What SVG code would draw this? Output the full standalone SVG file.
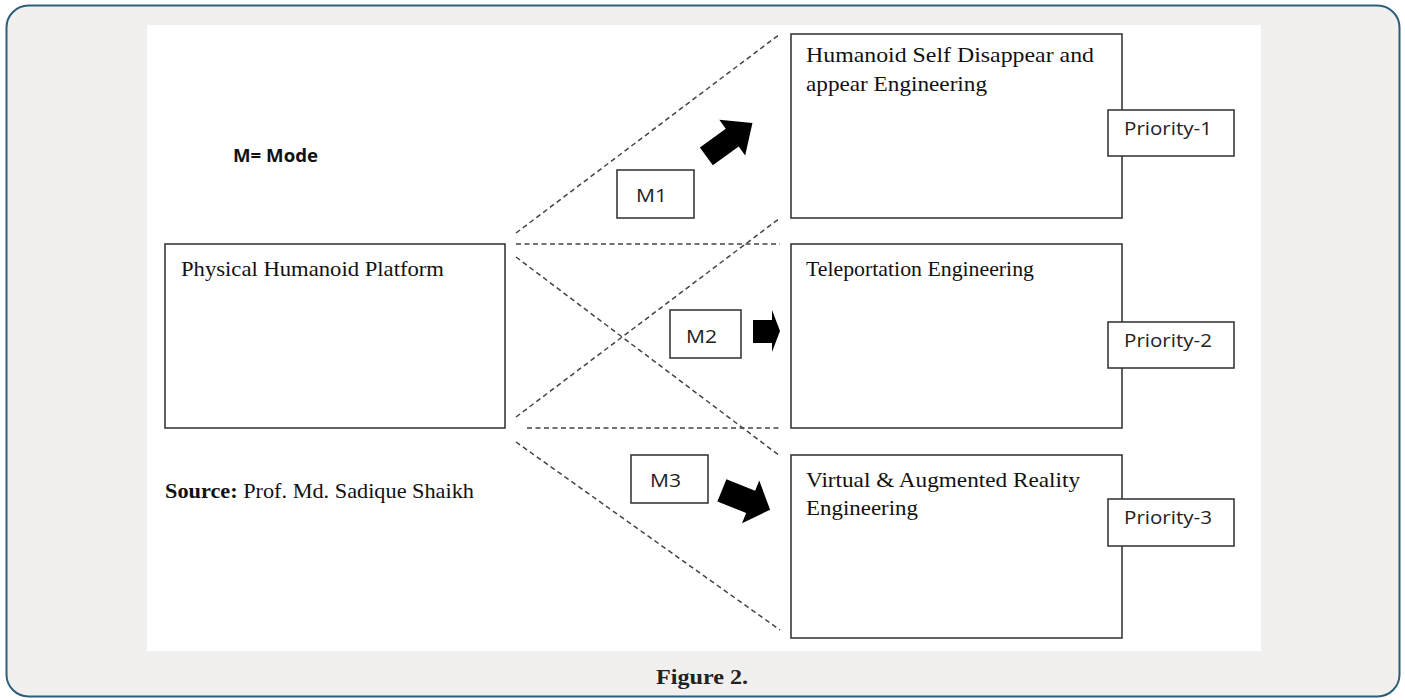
<svg xmlns="http://www.w3.org/2000/svg" width="1405" height="700" viewBox="0 0 1405 700">
<style>
.box{fill:#fff;stroke:#3a3a3a;stroke-width:1.6}
.dash{stroke:#444;stroke-width:1.5;stroke-dasharray:5 3.5;fill:none}
.serif{font-family:"Liberation Serif","Times New Roman",serif;font-size:22px;fill:#111}
.sans{font-family:"Open Sans","Liberation Sans",sans-serif;font-size:19px;fill:#222}
.arrow{fill:#000}
</style>
<rect x="6.5" y="5.5" width="1393" height="691" rx="22" fill="#f1f0ee" stroke="#2a5f7a" stroke-width="2"/>
<rect x="147" y="25" width="1114" height="626" fill="#fff"/>
<g id="connectors">
<line class="dash" x1="516" y1="233" x2="780" y2="34"/>
<line class="dash" x1="516" y1="244" x2="780" y2="244"/>
<line class="dash" x1="516" y1="257" x2="780" y2="456"/>
<line class="dash" x1="516" y1="417" x2="780" y2="218"/>
<line class="dash" x1="527" y1="428" x2="780" y2="428"/>
<line class="dash" x1="516" y1="442" x2="780" y2="630"/>
<path class="arrow" transform="translate(729,140) rotate(-36)" d="M-28,-11 L4,-11 L4,-22 L29,0 L4,22 L4,11 L-28,11 Z"/>
<path class="arrow" d="M753,320 L772,320 L772,310 L780,331 L772,352 L772,343 L753,343 Z"/>
<path class="arrow" transform="translate(746,500) rotate(22)" d="M-26,-12 L5,-12 L5,-23 L26,0 L5,23 L5,12 L-26,12 Z"/>
</g>
<g id="legend">
<text x="233" y="162" textLength="85" lengthAdjust="spacingAndGlyphs" style="font-family:'Open Sans','Liberation Sans',sans-serif;font-size:18px;font-weight:bold;fill:#111">M= Mode</text>
</g>
<g id="source">
<text x="165" y="498" class="serif" textLength="309" lengthAdjust="spacingAndGlyphs"><tspan font-weight="bold">Source:</tspan> Prof. Md. Sadique Shaikh</text>
</g>
<g id="platform">
<rect class="box" x="165" y="244" width="340" height="184"/>
<text x="181" y="276" class="serif" textLength="263" lengthAdjust="spacingAndGlyphs">Physical Humanoid Platform</text>
</g>
<g id="node-self">
<rect class="box" x="791" y="34" width="331" height="184"/>
<text x="806" y="62" class="serif" textLength="288" lengthAdjust="spacingAndGlyphs">Humanoid Self Disappear and</text>
<text x="806" y="91" class="serif" textLength="181" lengthAdjust="spacingAndGlyphs">appear Engineering</text>
</g>
<g id="priority-1">
<rect class="box" x="1108" y="110" width="126" height="46"/>
<text x="1124" y="135" class="sans" textLength="88" lengthAdjust="spacingAndGlyphs">Priority-1</text>
</g>
<g id="node-teleport">
<rect class="box" x="791" y="244" width="331" height="184"/>
<text x="806" y="276" class="serif" textLength="228" lengthAdjust="spacingAndGlyphs">Teleportation Engineering</text>
</g>
<g id="priority-2">
<rect class="box" x="1108" y="322" width="126" height="46"/>
<text x="1124" y="347" class="sans" textLength="88" lengthAdjust="spacingAndGlyphs">Priority-2</text>
</g>
<g id="node-var">
<rect class="box" x="791" y="455" width="331" height="183"/>
<text x="806" y="487" class="serif" textLength="274" lengthAdjust="spacingAndGlyphs">Virtual &amp; Augmented Reality</text>
<text x="806" y="515" class="serif" textLength="112" lengthAdjust="spacingAndGlyphs">Engineering</text>
</g>
<g id="priority-3">
<rect class="box" x="1108" y="499" width="126" height="47"/>
<text x="1124" y="524" class="sans" textLength="88" lengthAdjust="spacingAndGlyphs">Priority-3</text>
</g>
<g id="m1">
<rect class="box" x="617" y="170" width="77" height="48"/>
<text x="636" y="202" class="sans" textLength="31" lengthAdjust="spacingAndGlyphs">M1</text>
</g>
<g id="m2">
<rect class="box" x="670" y="310" width="71" height="48"/>
<text x="686" y="343" class="sans" textLength="31" lengthAdjust="spacingAndGlyphs">M2</text>
</g>
<g id="m3">
<rect class="box" x="631" y="455" width="77" height="48"/>
<text x="650" y="487" class="sans" textLength="31" lengthAdjust="spacingAndGlyphs">M3</text>
</g>
<text x="656" y="684" textLength="92" lengthAdjust="spacingAndGlyphs" style="font-family:'Liberation Serif',serif;font-size:22px;font-weight:bold;fill:#222">Figure 2.</text>
</svg>
